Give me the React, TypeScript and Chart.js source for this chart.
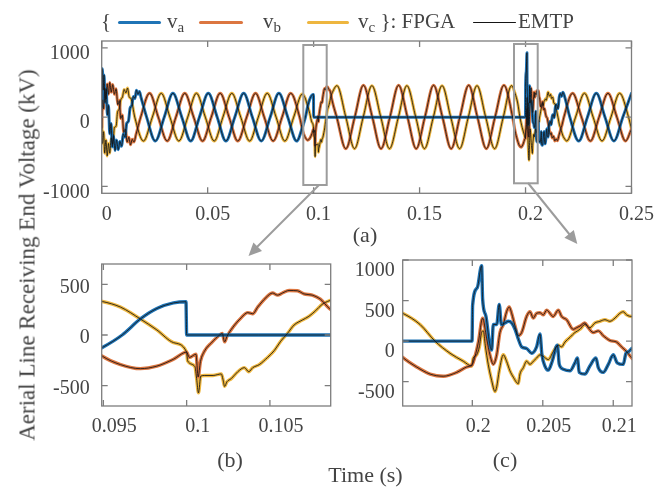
import React, { useEffect, useRef } from "react";
import { Chart, registerables } from "chart.js";

Chart.register(...registerables);

type Pt = [number, number];

// ---------- data: [time (s), voltage (kV)] ----------
const VA_ENERGIZE: Pt[] = [
  [0, 150], [0.0003, 700], [0.0007, 390], [0.0011, 610], [0.0016, 210], [0.0021, 410], [0.0027, 30],
  [0.0032, 170], [0.0038, -240], [0.0044, -90], [0.005, -430], [0.0056, -270], [0.0063, -480],
  [0.007, -330], [0.0078, -470], [0.0086, -350], [0.0094, -420], [0.0102, -240], [0.011, -290],
  [0.0118, -90], [0.0126, -60], [0.0134, 130], [0.0142, 170], [0.015, 300], [0.0157, 270],
  [0.0164, 390], [0.0171, 330], [0.0178, 370], [0.0186, 280], [0.0212, 0], [0.0253, -345],
  [0.0295, 0], [0.0336, 345], [0.0378, 0], [0.042, -345], [0.0461, 0], [0.0503, 345], [0.0545, 0],
  [0.0586, -345], [0.0628, 0], [0.067, 345], [0.0711, 0], [0.0753, -345], [0.0795, 0], [0.0836, 345],
  [0.0878, 0], [0.092, -345],
];
const VA_ZOOM_B: Pt[] = [
  [0.09494, -123], [0.09613, 0], [0.09722, 158], [0.09821, 261], [0.09921, 316], [0.09996, 328],
  [0.1, 0], [0.10865, 0],
];
const VA_ZOOM_C: Pt[] = [
  [0.19506, 0], [0.19998, 0], [0.20002, 441], [0.20035, 657], [0.20066, 930], [0.20073, 520],
  [0.20097, 303], [0.20121, -12], [0.20137, -110], [0.20149, 205], [0.20173, 205], [0.20191, 453],
  [0.20206, 205], [0.20232, 224], [0.20255, 244], [0.20279, 224], [0.20303, 146], [0.20326, 28],
  [0.2035, -71], [0.20385, -91], [0.20421, -150], [0.20456, -71], [0.2048, 87], [0.20494, -169],
  [0.20515, -307], [0.20539, -358], [0.20567, -248], [0.20603, -51], [0.20617, -287], [0.20645, -346],
  [0.20693, -366], [0.20728, -268], [0.20745, -209], [0.20759, -386], [0.20799, -406], [0.20834, -307],
  [0.20877, -209], [0.20894, -327], [0.20929, -386], [0.20965, -287], [0.21, -169], [0.21028, -268],
  [0.21071, -287], [0.2109, -150], [0.21109, -130], [0.21132, -91],
];
const VA_RECOVER: Pt[] = [
  [0.2117, -60], [0.2121, -110], [0.2126, 10], [0.2131, 40], [0.2135, -10], [0.2141, 150],
  [0.2148, 180], [0.2153, 120], [0.2159, 290], [0.2165, 340], [0.217, 300], [0.2176, 360],
  [0.2184, 300], [0.2209, 0], [0.2251, -345], [0.2292, 0], [0.2334, 345], [0.2375, 0],
  [0.2417, -345], [0.2459, 0], [0.25, 345],
];

const VB_ENERGIZE: Pt[] = [
  [0, -150], [0.0004, 250], [0.0009, 120], [0.0014, 420], [0.002, 260], [0.0026, 480], [0.0032, 330],
  [0.0038, 500], [0.0045, 360], [0.0052, 470], [0.006, 330], [0.0068, 410], [0.0076, 180],
  [0.0083, 240], [0.009, -20], [0.0097, 30], [0.0104, -220], [0.0112, -170], [0.012, -360],
  [0.0128, -290], [0.0136, -400], [0.0144, -320], [0.0152, -360], [0.0162, -250], [0.0184, 0],
  [0.0226, 345], [0.0267, 0], [0.0309, -345], [0.035, 0], [0.0392, 345], [0.0434, 0], [0.0476, -345],
  [0.0517, 0], [0.0559, 345], [0.0601, 0], [0.0642, -345], [0.0684, 0], [0.0726, 345], [0.0767, 0],
  [0.0809, -345], [0.0851, 0], [0.0892, 345], [0.0934, 0],
];
const VB_ZOOM_B: Pt[] = [
  [0.09494, -209], [0.09603, -292], [0.09722, -332], [0.09821, -307], [0.09921, -239], [0.1, -169],
  [0.10016, -221], [0.10056, -190], [0.10069, -414], [0.10083, -261], [0.10109, -154], [0.10149, -77],
  [0.10198, 0], [0.10214, 15], [0.10228, -68], [0.10242, -15], [0.10278, 77], [0.10327, 169],
  [0.10367, 221], [0.10397, 209], [0.10427, 276], [0.10476, 368], [0.10516, 414], [0.10546, 393],
  [0.10575, 414], [0.10615, 439], [0.10665, 436], [0.10704, 405], [0.10754, 393], [0.10803, 353],
  [0.10857, 261],
];
const VB_FAULT: Pt[] = [
  [0.1109, 0], [0.1152, -455], [0.1194, 0], [0.1235, 460], [0.1277, 0], [0.1318, -455], [0.136, 0],
  [0.1401, 460], [0.1443, 0], [0.1484, -455], [0.1525, 0], [0.1566, 460], [0.1608, 0], [0.1649, -455],
  [0.169, 0], [0.1732, 460], [0.1773, 0], [0.1815, -455], [0.1856, 0], [0.1898, 460], [0.1939, 0],
];
const VB_ZOOM_C: Pt[] = [
  [0.19506, -201], [0.19605, -319], [0.197, -406], [0.19794, -433], [0.19889, -386], [0.1996, -319],
  [0.2, -287], [0.20019, -189], [0.20043, -12], [0.20073, 283], [0.20102, 28], [0.20125, -169],
  [0.20149, -287], [0.20173, -169], [0.20196, 106], [0.2022, 205], [0.20243, 362], [0.20262, 421],
  [0.20279, 343], [0.20303, 185], [0.20326, 67], [0.2035, 106], [0.20385, 303], [0.20409, 362],
  [0.20433, 283], [0.20456, 343], [0.2048, 350], [0.20504, 323], [0.20527, 382], [0.20574, 303],
  [0.2061, 382], [0.20634, 303], [0.20669, 264], [0.20716, 146], [0.2074, 165], [0.20764, 185],
  [0.20799, 224], [0.20823, 165], [0.20858, 106], [0.20894, 126], [0.20929, 67], [0.20976, 8],
  [0.21024, -12], [0.21059, -71], [0.21095, -130], [0.21132, -209],
];
const VB_RECOVER: Pt[] = [
  [0.2117, -250], [0.2121, -225], [0.2126, -300], [0.2132, -275], [0.2138, -345], [0.2144, -315],
  [0.215, -340], [0.2158, -260], [0.2165, -185], [0.2172, -115], [0.2181, 0], [0.2222, 345],
  [0.2264, 0], [0.2306, -345], [0.2347, 0], [0.2389, 345], [0.2431, 0], [0.2472, -345], [0.25, -170],
];

const VC_ENERGIZE: Pt[] = [
  [0, 0], [0.0004, -380], [0.0009, -210], [0.0014, -520], [0.002, -330], [0.0026, -560], [0.0032, -380],
  [0.0038, -520], [0.0045, -300], [0.0052, -390], [0.006, -150], [0.0068, -130], [0.0075, 80],
  [0.0082, 110], [0.009, 250], [0.0098, 290], [0.0106, 400], [0.0114, 350], [0.0122, 420],
  [0.013, 290], [0.0138, 270], [0.0156, 0], [0.0197, -345], [0.0239, 0], [0.0281, 345], [0.0322, 0],
  [0.0364, -345], [0.0406, 0], [0.0447, 345], [0.0489, 0], [0.0531, -345], [0.0572, 0], [0.0614, 345],
  [0.0656, 0], [0.0698, -345], [0.0739, 0], [0.0781, 345], [0.0823, 0], [0.0864, -345], [0.0906, 0],
  [0.0947, 335],
];
const VC_ZOOM_B: Pt[] = [
  [0.09494, 330], [0.09603, 275], [0.09722, 158], [0.09821, 50], [0.09921, -75], [0.1, -169],
  [0.10006, -255], [0.1005, -313], [0.1006, -430], [0.10071, -571], [0.10085, -405], [0.10109, -399],
  [0.10159, -399], [0.10208, -384], [0.10218, -436], [0.10228, -507], [0.10242, -461], [0.10268, -430],
  [0.10307, -362], [0.10347, -322], [0.10373, -362], [0.10397, -322], [0.10436, -292], [0.10486, -221],
  [0.10526, -154], [0.10565, -61], [0.10605, 15], [0.10645, 98], [0.10694, 147], [0.10734, 184],
  [0.10774, 239], [0.10813, 301], [0.10857, 338],
];
const VC_FAULT: Pt[] = [
  [0.111, 455], [0.1152, 0], [0.1193, -455], [0.1234, 0], [0.1275, 455], [0.1317, 0], [0.1358, -455],
  [0.14, 0], [0.144, 455], [0.1482, 0], [0.1523, -455], [0.1565, 0], [0.1606, 455], [0.1647, 0],
  [0.1689, -455], [0.173, 0], [0.1771, 455], [0.1812, 0], [0.1854, -455], [0.1895, 0], [0.1934, 455],
];
const VC_ZOOM_C: Pt[] = [
  [0.19506, 343], [0.19629, 205], [0.19735, 0], [0.19842, -150], [0.19936, -248], [0.19995, -307],
  [0.20007, -209], [0.20031, -169], [0.2005, -71], [0.20066, 106], [0.20078, 126], [0.20092, -51],
  [0.20113, -287], [0.20137, -484], [0.20161, -622], [0.20173, -563], [0.20191, -366], [0.2022, -169],
  [0.20243, -248], [0.20267, -366], [0.20291, -445], [0.20326, -524], [0.20338, -406], [0.20362, -327],
  [0.20385, -248], [0.20409, -287], [0.20433, -248], [0.20456, -209], [0.2048, -169], [0.20504, -189],
  [0.20539, -228], [0.20574, -130], [0.2061, -51], [0.20634, -71], [0.20657, -12], [0.20693, 47],
  [0.20728, 106], [0.20764, 146], [0.20799, 205], [0.20834, 165], [0.2087, 224], [0.20905, 244],
  [0.20941, 264], [0.20976, 244], [0.21012, 283], [0.21047, 343], [0.21071, 362], [0.21095, 323],
  [0.21132, 303],
];
const VC_RECOVER: Pt[] = [
  [0.2118, 330], [0.2123, 270], [0.2128, 290], [0.2134, 200], [0.214, 190], [0.2146, 100],
  [0.2153, 0], [0.216, -110], [0.2166, -160], [0.2172, -230], [0.2178, -280], [0.2186, -320],
  [0.2194, -345], [0.2236, 0], [0.2278, 345], [0.2319, 0], [0.2361, -345], [0.2403, 0],
  [0.2444, 345], [0.2486, 0], [0.25, -172],
];

const VA: Pt[] = [...VA_ENERGIZE, ...VA_ZOOM_B, ...VA_ZOOM_C, ...VA_RECOVER];
const VB: Pt[] = [...VB_ENERGIZE, ...VB_ZOOM_B, ...VB_FAULT, ...VB_ZOOM_C, ...VB_RECOVER];
const VC: Pt[] = [...VC_ENERGIZE, ...VC_ZOOM_B, ...VC_FAULT, ...VC_ZOOM_C, ...VC_RECOVER];

// ---------- axes ----------
const TOP_X_RANGE: [number, number] = [0, 0.25];
const TOP_Y_RANGE: [number, number] = [-1100, 1100];
const TOP_X_TICKS = [0, 0.05, 0.1, 0.15, 0.2, 0.25];
const TOP_Y_TICKS = [-1000, 0, 1000];
const B_X_RANGE: [number, number] = [0.0949, 0.10865];
const B_Y_RANGE: [number, number] = [-700, 700];
const B_X_TICKS = [0.095, 0.1, 0.105];
const B_Y_TICKS = [-500, 0, 500];
const C_X_RANGE: [number, number] = [0.19506, 0.21133];
const C_Y_RANGE: [number, number] = [-800, 1000];
const C_X_TICKS = [0.2, 0.205, 0.21];
const C_Y_TICKS = [-500, 0, 500, 1000];

// ---------- style ----------
const FONT = "'Liberation Serif', 'Times New Roman', Times, serif";
const TEXT = "#444444";
const FRAME = "#7d7d7d";
const BLUE = "#1f74b6";
const ORANGE = "#dc7640";
const YELLOW = "#eeb63f";
const EMTP = "#151515";
const NOTE = "#9c9c9c";

type Spec = {
  xRange: [number, number];
  yRange: [number, number];
  xTicks: number[];
  yTicks: number[];
  box: { left: number; top: number; width: number; height: number };
  area: { left: number; top: number; right: number; bottom: number };
  xLabelOffset: number;
  yLabelOffset: number;
  xPad: number;
  yPad: number;
  lw: number;
};

const framePlugin = {
  id: "frame",
  afterDraw(chart: any) {
    const { ctx, chartArea: a, scales } = chart;
    ctx.save();
    ctx.strokeStyle = FRAME;
    ctx.lineWidth = 1.3;
    ctx.strokeRect(a.left, a.top, a.right - a.left, a.bottom - a.top);
    const tl = 6;
    ctx.beginPath();
    for (const t of scales.x.ticks) {
      const p = scales.x.getPixelForValue(t.value);
      ctx.moveTo(p, a.bottom);
      ctx.lineTo(p, a.bottom - tl);
      ctx.moveTo(p, a.top);
      ctx.lineTo(p, a.top + tl);
    }
    for (const t of scales.y.ticks) {
      const p = scales.y.getPixelForValue(t.value);
      ctx.moveTo(a.left, p);
      ctx.lineTo(a.left + tl, p);
      ctx.moveTo(a.right, p);
      ctx.lineTo(a.right - tl, p);
    }
    ctx.stroke();
    ctx.restore();
  },
};

function toXY(pts: Pt[]) {
  return pts.map(([x, y]) => ({ x, y }));
}

function makeDatasets(lw: number) {
  const phases = [
    { name: "va", pts: VA, color: BLUE },
    { name: "vb", pts: VB, color: ORANGE },
    { name: "vc", pts: VC, color: YELLOW },
  ];
  const common = {
    pointRadius: 0,
    fill: false,
    cubicInterpolationMode: "monotone" as const,
    borderJoinStyle: "round" as const,
    borderCapStyle: "round" as const,
  };
  const emtp = phases.map((p) => ({
    ...common,
    label: "EMTP " + p.name,
    data: toXY(p.pts),
    borderColor: EMTP,
    borderWidth: 0.85,
  }));
  const fpga = phases.map((p) => ({
    ...common,
    label: "FPGA " + p.name,
    data: toXY(p.pts),
    borderColor: p.color,
    borderWidth: lw,
  }));
  return [...emtp, ...fpga];
}

function buildConfig(s: Spec): any {
  const a = s.area;
  const tickFont = { family: FONT, size: 20 };
  return {
    type: "line",
    data: { datasets: makeDatasets(s.lw) },
    options: {
      animation: false,
      responsive: false,
      maintainAspectRatio: false,
      events: [],
      layout: { padding: { left: 0, top: a.top, right: s.box.width - a.right, bottom: 0 } },
      plugins: { legend: { display: false }, tooltip: { enabled: false } },
      scales: {
        x: {
          type: "linear",
          bounds: "data",
          min: s.xRange[0],
          max: s.xRange[1],
          grid: { display: false, drawTicks: false },
          border: { display: false },
          ticks: {
            autoSkip: false,
            maxRotation: 0,
            minRotation: 0,
            padding: s.xPad,
            labelOffset: s.xLabelOffset,
            font: tickFont,
            color: TEXT,
            callback: (v: number) => String(v),
          },
          afterBuildTicks: (ax: any) => {
            ax.ticks = s.xTicks.map((v) => ({ value: v }));
          },
          afterFit: (ax: any) => {
            ax.height = s.box.height - a.bottom;
          },
        },
        y: {
          type: "linear",
          bounds: "data",
          min: s.yRange[0],
          max: s.yRange[1],
          grid: { display: false, drawTicks: false },
          border: { display: false },
          ticks: {
            autoSkip: false,
            padding: s.yPad,
            labelOffset: s.yLabelOffset,
            font: tickFont,
            color: TEXT,
            callback: (v: number) => String(v),
          },
          afterBuildTicks: (ax: any) => {
            ax.ticks = s.yTicks.map((v) => ({ value: v }));
          },
          afterFit: (ax: any) => {
            ax.width = a.left;
          },
        },
      },
    },
    plugins: [framePlugin],
  };
}

function Panel({ spec }: { spec: Spec }) {
  const ref = useRef<HTMLCanvasElement | null>(null);
  useEffect(() => {
    const chart = new Chart(ref.current as HTMLCanvasElement, buildConfig(spec));
    return () => chart.destroy();
  }, []);
  const b = spec.box;
  return (
    <canvas
      ref={ref}
      width={b.width}
      height={b.height}
      style={{ position: "absolute", left: b.left, top: b.top, width: b.width, height: b.height }}
    />
  );
}

const TOP_SPEC: Spec = {
  xRange: TOP_X_RANGE,
  yRange: TOP_Y_RANGE,
  xTicks: TOP_X_TICKS,
  yTicks: TOP_Y_TICKS,
  box: { left: 0, top: 0, width: 672, height: 240 },
  area: { left: 101.7, top: 41, right: 631.5, bottom: 193.3 },
  xLabelOffset: 5,
  yLabelOffset: 6,
  xPad: 9,
  yPad: 12,
  lw: 3,
};
const B_SPEC: Spec = {
  xRange: B_X_RANGE,
  yRange: B_Y_RANGE,
  xTicks: B_X_TICKS,
  yTicks: B_Y_TICKS,
  box: { left: 0, top: 240, width: 340, height: 248 },
  area: { left: 101.7, top: 14.3, right: 330.7, bottom: 166 },
  xLabelOffset: 11,
  yLabelOffset: 3,
  xPad: 9,
  yPad: 12,
  lw: 3.4,
};
const C_SPEC: Spec = {
  xRange: C_X_RANGE,
  yRange: C_Y_RANGE,
  xTicks: C_X_TICKS,
  yTicks: C_Y_TICKS,
  box: { left: 340, top: 240, width: 332, height: 248 },
  area: { left: 62.7, top: 14.3, right: 292, bottom: 166 },
  xLabelOffset: 6,
  yLabelOffset: 11,
  xPad: 9,
  yPad: 8,
  lw: 3.4,
};

const txt = (extra: React.CSSProperties): React.CSSProperties => ({
  position: "absolute",
  fontFamily: FONT,
  color: TEXT,
  whiteSpace: "nowrap",
  ...extra,
});

function Centered({ x, y, size, children, rotate }: { x: number; y: number; size: number; children: React.ReactNode; rotate?: boolean }) {
  return (
    <div
      style={txt({
        left: x,
        top: y,
        fontSize: size,
        lineHeight: size + "px",
        transform: "translate(-50%, -50%)" + (rotate ? " rotate(-90deg)" : ""),
      })}
    >
      {children}
    </div>
  );
}

function LegendText({ x, children }: { x: number; children: React.ReactNode }) {
  return <div style={txt({ left: x, top: 11, fontSize: 21, lineHeight: "21px" })}>{children}</div>;
}

const Sub = ({ c }: { c: string }) => (
  <span style={{ fontSize: 15, position: "relative", top: 4 }}>{c}</span>
);

function Swatch({ x, w, color, h }: { x: number; w: number; color: string; h: number }) {
  return (
    <div
      style={{
        position: "absolute",
        left: x,
        top: 22.3 - h / 2,
        width: w,
        height: h,
        background: color,
        borderRadius: h / 2,
      }}
    />
  );
}

export default function App() {
  return (
    <div
      style={{
        position: "fixed",
        left: 0,
        top: 0,
        width: 672,
        height: 488,
        background: "#ffffff",
        overflow: "hidden",
      }}
    >
      <Panel spec={TOP_SPEC} />
      <Panel spec={B_SPEC} />
      <Panel spec={C_SPEC} />

      {/* legend */}
      <LegendText x={101}>{"{"}</LegendText>
      <Swatch x={118} w={43} color={BLUE} h={3.6} />
      <LegendText x={167}>
        v<Sub c="a" />
      </LegendText>
      <Swatch x={199} w={44} color={ORANGE} h={3.6} />
      <LegendText x={263}>
        v<Sub c="b" />
      </LegendText>
      <Swatch x={307} w={42} color={YELLOW} h={3.6} />
      <LegendText x={358}>
        v<Sub c="c" /> {"}"}: FPGA
      </LegendText>
      <Swatch x={473} w={43} color={EMTP} h={1.4} />
      <LegendText x={518}>EMTP</LegendText>

      {/* labels */}
      <Centered x={27} y={254.5} size={23} rotate>
        Aerial Line Receiving End Voltage (kV)
      </Centered>
      <Centered x={365} y={235} size={22}>(a)</Centered>
      <Centered x={230} y={460} size={22}>(b)</Centered>
      <Centered x={505} y={460} size={22}>(c)</Centered>
      <Centered x={365.5} y={475} size={22}>Time (s)</Centered>

      {/* zoom boxes and arrows */}
      <svg
        width={672}
        height={488}
        style={{ position: "absolute", left: 0, top: 0, pointerEvents: "none" }}
      >
        <rect x={303.3} y={45} width={23.4} height={140} fill="none" stroke={NOTE} strokeWidth={2} />
        <rect x={514} y={44} width={23.7} height={139.3} fill="none" stroke={NOTE} strokeWidth={2} />
        <line x1={319} y1={185} x2={256} y2={248} stroke={NOTE} strokeWidth={2} />
        <polygon points="248.5,256 262,251 253.4,242.6" fill={NOTE} />
        <line x1={528} y1={183} x2={570} y2={235} stroke={NOTE} strokeWidth={2} />
        <polygon points="577.3,244 573.8,230.1 564.4,237.7" fill={NOTE} />
      </svg>
    </div>
  );
}
